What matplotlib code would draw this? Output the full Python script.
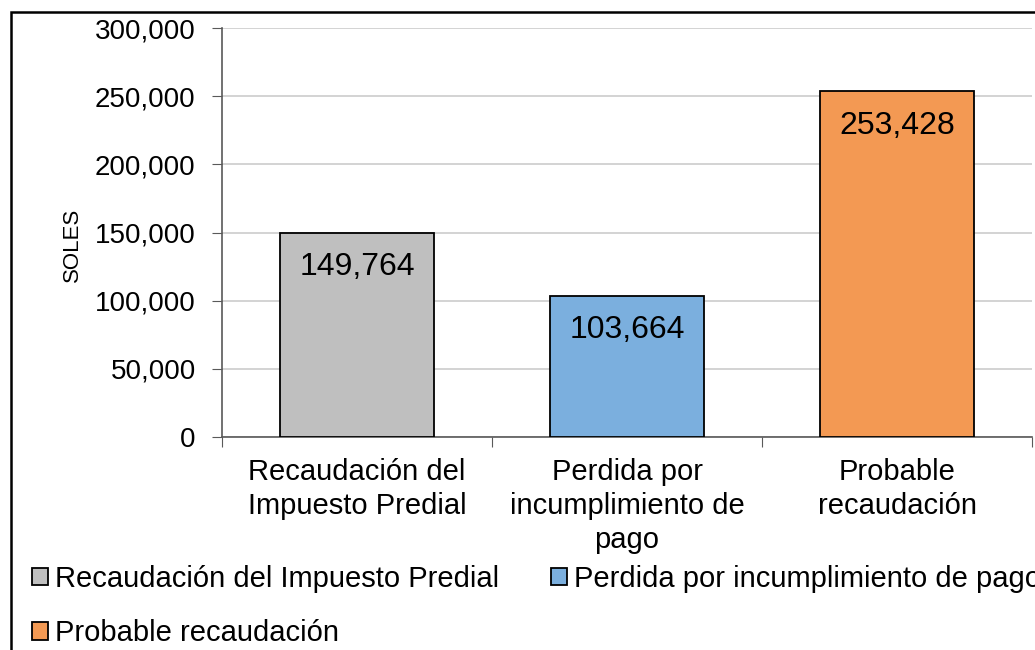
import matplotlib
matplotlib.use('Agg')
import matplotlib.pyplot as plt
from matplotlib.patches import Rectangle
from matplotlib.ticker import FuncFormatter

plt.rcParams['font.family'] = ['Liberation Sans', 'DejaVu Sans']

categories = ['Recaudación del\nImpuesto Predial',
              'Perdida por\nincumplimiento de\npago',
              'Probable\nrecaudación']
legend_names = ['Recaudación del Impuesto Predial',
                'Perdida por incumplimiento de pago',
                'Probable recaudación']
values = [149764, 103664, 253428]
colors = ['#BFBFBF', '#7BAFDE', '#F39953']

fig = plt.figure(figsize=(10.35, 6.5), dpi=100)
ax = fig.add_axes([222 / 1035, 1 - 437 / 650, 810 / 1035, 409 / 650])

x = range(len(values))
bars = []
for i in x:
    b = ax.bar(i, values[i], width=0.574, color=colors[i], edgecolor='black',
               linewidth=1.3, label=legend_names[i], zorder=3)
    bars.append(b)
    ax.annotate(f'{values[i]:,}', (i, values[i]), xytext=(0, -14),
                textcoords='offset points', ha='center', va='top',
                fontsize=23, zorder=4)

ax.set_xlim(-0.5, 2.5)
ax.set_ylim(0, 300000)
ax.set_yticks(range(0, 300001, 50000))
ax.yaxis.set_major_formatter(FuncFormatter(lambda v, p: f'{int(v):,}'))
ax.set_xticks([-0.5, 0.5, 1.5, 2.5], minor=False)
ax.set_xticklabels([])
ax.set_xticks(list(x), minor=True)
ax.set_xticklabels(categories, minor=True, fontsize=21, linespacing=1.27)
ax.tick_params(axis='x', which='minor', length=0, pad=15)
ax.tick_params(axis='x', which='major', length=7, color='#595959')
ax.tick_params(axis='y', length=7, color='#595959', labelsize=20, pad=12)

ax.grid(axis='y', color='#D0D0D0', linewidth=1.3, zorder=0)
for s in ['top', 'right']:
    ax.spines[s].set_visible(False)
for s in ['left', 'bottom']:
    ax.spines[s].set_color('#595959')
    ax.spines[s].set_linewidth(1.2)

ax.set_ylabel('SOLES', fontsize=16)
ax.yaxis.set_label_coords(-0.172, 0.47)

# row-major order like the original: 1, 2 on first row, 3 on second
order = [0, 2, 1]
fig.legend(handles=[bars[k][0] for k in order],
           labels=[legend_names[k] for k in order],
           loc='upper left', bbox_to_anchor=(32 / 1035, 1 - 565 / 650),
           ncol=2, frameon=False, fontsize=21, handlelength=0.55,
           handleheight=0.55, handletextpad=0.25, columnspacing=1.75,
           labelspacing=0.9, borderaxespad=0, borderpad=0)

fig.patches.append(Rectangle((11 / 1035, -0.1), 1.2, 1 - 12 / 650 + 0.1,
                             transform=fig.transFigure, fill=False,
                             edgecolor='black', linewidth=1.8))

fig.savefig('out.png', dpi=100)
